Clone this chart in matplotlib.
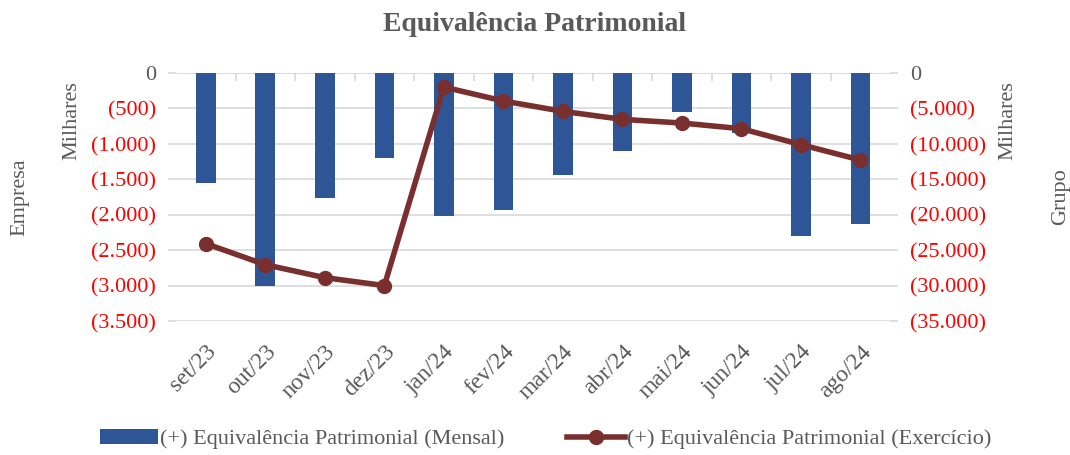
import numpy as np
import matplotlib.pyplot as plt
from matplotlib.ticker import FuncFormatter

meses = ["set/23", "out/23", "nov/23", "dez/23", "jan/24", "fev/24",
         "mar/24", "abr/24", "mai/24", "jun/24", "jul/24", "ago/24"]
# valores em milhares
mensal = [-1550, -3000, -1770, -1200, -2020, -1940, -1445, -1105, -555, -840, -2300, -2135]
exercicio = [-24080, -27050, -28880, -30000, -1980, -3950, -5410, -6540, -7060, -7860, -10110, -12280]

cinza = "#595959"
vermelho = "#FF0000"
azul = "#2E5596"
vinho = "#7A2F2F"

plt.rcParams['font.family'] = ['Liberation Serif', 'DejaVu Serif']

fig = plt.figure(figsize=(10.7, 4.55), dpi=100)
ax = fig.add_axes([0.1645, 0.2945, 0.6675, 0.545])
ax2 = ax.twinx()

x = np.arange(len(meses))
ax.bar(x, mensal, width=0.33, color=azul, zorder=2, label="(+) Equivalência Patrimonial (Mensal)")
ax2.plot(x, exercicio, color=vinho, lw=4, marker='o', ms=10, zorder=3,
         label="(+) Equivalência Patrimonial (Exercício)")

ax.set_xlim(-0.5, len(meses) - 0.5)
ax.set_ylim(-3500, 0)
ax2.set_ylim(-35000, 0)
ax.set_yticks(np.arange(-3500, 1, 500))
ax2.set_yticks(np.arange(-35000, 1, 5000))


def fmt(v, pos):
    v = int(round(v))
    if v == 0:
        return "0"
    s = f"{abs(v):,}".replace(",", ".")
    return f"({s})" if v < 0 else s


ax.yaxis.set_major_formatter(FuncFormatter(fmt))
ax2.yaxis.set_major_formatter(FuncFormatter(fmt))

ax.grid(axis='y', color='#D9D9D9', lw=1.2, zorder=0)
ax.set_axisbelow(True)
for a in (ax, ax2):
    for s in a.spines.values():
        s.set_visible(False)
ax.axhline(0, color='#D9D9D9', lw=1.2, zorder=1)

ax.set_xticks(x)
ax.set_xticklabels(meses, rotation=45, ha='right', rotation_mode='anchor')
ax.set_xticks(np.arange(0.5, len(meses) - 1, 1), minor=True)
ax.tick_params(axis='x', which='major', length=0, pad=14.5, labelsize=17, labelcolor=cinza)
ax.tick_params(axis='x', which='minor', top=True, bottom=False, direction='in',
               length=6, color='#D9D9D9', width=1.2)
ax.tick_params(axis='y', length=6, color='#D9D9D9', width=1.2, labelsize=16, pad=8.5)
ax2.tick_params(axis='y', length=6, color='#D9D9D9', width=1.2, labelsize=16, pad=8.5)

for a in (ax, ax2):
    for t in a.get_yticklabels():
        t.set_color(cinza if t.get_text() == "0" else vermelho)

fig.text(0.5, 0.947, "Equivalência Patrimonial", ha='center', va='center',
         fontsize=20, fontweight='bold', color=cinza)
fig.text(0.019, 0.566, "Empresa", rotation=90, ha='center', va='center', fontsize=16, color=cinza)
fig.text(0.067, 0.734, "Milhares", rotation=90, ha='center', va='center', fontsize=16, color=cinza)
fig.text(0.942, 0.734, "Milhares", rotation=90, ha='center', va='center', fontsize=16, color=cinza)
fig.text(0.991, 0.567, "Grupo", rotation=90, ha='center', va='center', fontsize=16, color=cinza)

h1, l1 = ax.get_legend_handles_labels()
h2, l2 = ax2.get_legend_handles_labels()
fig.legend(h1 + h2, l1 + l2, loc='center', bbox_to_anchor=(0.51, 0.035), ncol=2,
           frameon=False, fontsize=16, labelcolor=cinza, handlelength=2.6,
           handletextpad=0.1, columnspacing=2.8)

fig.savefig("out.png", dpi=100)
